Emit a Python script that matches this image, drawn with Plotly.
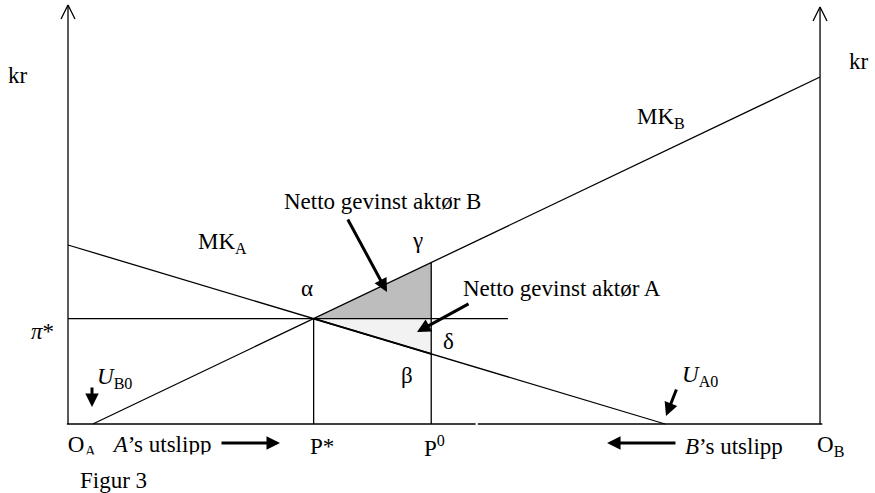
import plotly.graph_objects as go

# ---- data (economic units: emissions on x from O_A=0 to O_B=100, kr on y) ----
x_origin_A = 0.0
x_origin_B = 100.0
mk_a_at_origin_A = 44.75     # MK_A at O_A
u_a0 = 79.4                  # A's unregulated emission (MK_A = 0)
u_b0 = 3.3                   # B's unregulated emission point (MK_B = 0)
mk_b_at_origin_B = 86.75     # MK_B at O_B
p0 = 48.3                    # initial allocation P0
pi_line_end = 58.5           # end of the pi* line
axis_top = [104.75, 104.25]  # tops of the left / right kr axes
bottom_gap = [54.2, 54.5]    # small break in the bottom axis

FONT = "Liberation Serif, Times New Roman, serif"
FS = 23


def mk_a(x):
    return mk_a_at_origin_A * (1 - x / u_a0)


def mk_b(x):
    return mk_b_at_origin_B * (x - u_b0) / (x_origin_B - u_b0)


s_a = mk_a_at_origin_A / u_a0
s_b = mk_b_at_origin_B / (x_origin_B - u_b0)
p_star = (mk_a_at_origin_A + s_b * u_b0) / (s_a + s_b)
pi_star = mk_a(p_star)
gamma = mk_b(p0)
beta = mk_a(p0)

fig = go.Figure()
blk = dict(color="black", width=1.3)

# shaded triangles
fig.add_trace(go.Scatter(x=[p_star, p0, p0, p_star], y=[pi_star, gamma, pi_star, pi_star],
                         fill="toself", fillcolor="#bdbdbd", mode="lines",
                         line=dict(width=0), hoverinfo="skip"))
fig.add_trace(go.Scatter(x=[p_star, p0, p0, p_star], y=[pi_star, pi_star, beta, pi_star],
                         fill="toself", fillcolor="#f2f2f2", mode="lines",
                         line=dict(width=0), hoverinfo="skip"))

# curves
fig.add_trace(go.Scatter(x=[x_origin_A, u_a0], y=[mk_a(x_origin_A), 0], mode="lines", line=blk))
fig.add_trace(go.Scatter(x=[u_b0, x_origin_B], y=[0, mk_b(x_origin_B)], mode="lines", line=blk))
fig.add_trace(go.Scatter(x=[p_star, p0], y=[pi_star, beta], mode="lines",
                         line=dict(color="black", width=2.0)))
# pi* line
fig.add_trace(go.Scatter(x=[x_origin_A, pi_line_end], y=[pi_star, pi_star], mode="lines", line=blk))
# verticals P*, P0
fig.add_trace(go.Scatter(x=[p_star, p_star], y=[0, pi_star], mode="lines", line=blk))
fig.add_trace(go.Scatter(x=[p0, p0], y=[0, gamma], mode="lines", line=blk))

# axes
fig.add_trace(go.Scatter(x=[x_origin_A, x_origin_A], y=[0, axis_top[0]], mode="lines", line=blk))
fig.add_trace(go.Scatter(x=[x_origin_B, x_origin_B], y=[0, axis_top[1]], mode="lines", line=blk))
fig.add_trace(go.Scatter(x=[x_origin_A - 0.15, bottom_gap[0]], y=[0, 0], mode="lines", line=blk))
fig.add_trace(go.Scatter(x=[bottom_gap[1], x_origin_B + 0.3], y=[0, 0], mode="lines", line=blk))

# open arrowheads on the kr axes
hw, hh = 0.93, 3.5
for xa, top in zip([x_origin_A, x_origin_B], axis_top):
    fig.add_trace(go.Scatter(x=[xa - hw, xa, xa + hw], y=[top - hh, top, top - hh],
                             mode="lines", line=blk))

# clipped bottom-left labels (drawn as trace text so a mask can cover their lower edge)
fig.add_trace(go.Scatter(x=[1.86, 12.57], y=[-5.5, -5.5], mode="text",
                         text=["O<sub>A</sub>", "<i>A</i>’s utslipp"],
                         textposition="middle center",
                         textfont=dict(family=FONT, size=FS, color="black")))

fig.add_shape(type="rect", x0=-1.2, x1=20.6, y0=-7.65, y1=-11.5, xref="x", yref="y",
              fillcolor="white", line=dict(width=0), layer="above")

# text labels
labels = [
    ("kr", -6.65, 87.25),
    ("kr", 105.2, 90.75),
    ("MK<sub>B</sub>", 78.86, 76.5),
    ("Netto gevinst aktør B", 41.76, 55.75),
    ("γ", 46.41, 46.0),
    ("MK<sub>A</sub>", 20.55, 45.25),
    ("α", 31.78, 34.0),
    ("Netto gevinst aktør A", 65.63, 34.0),
    ("δ", 50.53, 20.75),
    ("β", 45.08, 12.25),
    ("<i>π</i>*", -3.39, 23.25),
    ("<i>U</i><sub>B0</sub>", 6.18, 11.5),
    ("<i>U</i><sub>A0</sub>", 84.04, 12.0),
    ("P*", 33.71, -5.5),
    ("P<sup>0</sup>", 48.8, -5.5),
    ("<i>B</i>’s utslipp", 88.56, -5.5),
    ("O<sub>B</sub>", 101.33, -5.5),
    ("Figur 3", 6.05, -14.0),
]
for t, x, y in labels:
    fig.add_annotation(x=x, y=y, text=t, showarrow=False, xanchor="center", yanchor="middle",
                       font=dict(family=FONT, size=FS, color="black"))

# thick filled arrows (tip x,y ; tail ax,ay)
arrows = [
    (42.42, 33.0, 37.1, 51.5),     # to net gain B
    (46.41, 23.0, 53.46, 30.25),   # to net gain A
    (3.19, 4.25, 3.19, 9.5),       # U_B0
    (79.52, 2.0, 80.98, 9.0),      # U_A0
    (28.19, -4.75, 20.21, -4.75),  # A's emissions
    (71.68, -4.75, 80.98, -4.75),  # B's emissions
]
for x, y, ax, ay in arrows:
    fig.add_annotation(x=x, y=y, ax=ax, ay=ay, xref="x", yref="y", axref="x", ayref="y",
                       text="", showarrow=True, arrowhead=2, arrowsize=0.9,
                       arrowwidth=3, arrowcolor="black", standoff=0, startstandoff=0)

fig.update_layout(
    width=875, height=493,
    margin=dict(l=0, r=0, t=0, b=0),
    paper_bgcolor="white", plot_bgcolor="white",
    showlegend=False,
    xaxis=dict(range=[-9.043, 107.31], visible=False, fixedrange=True),
    yaxis=dict(range=[-17.25, 106.0], visible=False, fixedrange=True),
)

fig.write_html("out.html", config={"displayModeBar": False},
               post_script="document.body.style.margin='0';document.body.style.overflow='hidden';")
